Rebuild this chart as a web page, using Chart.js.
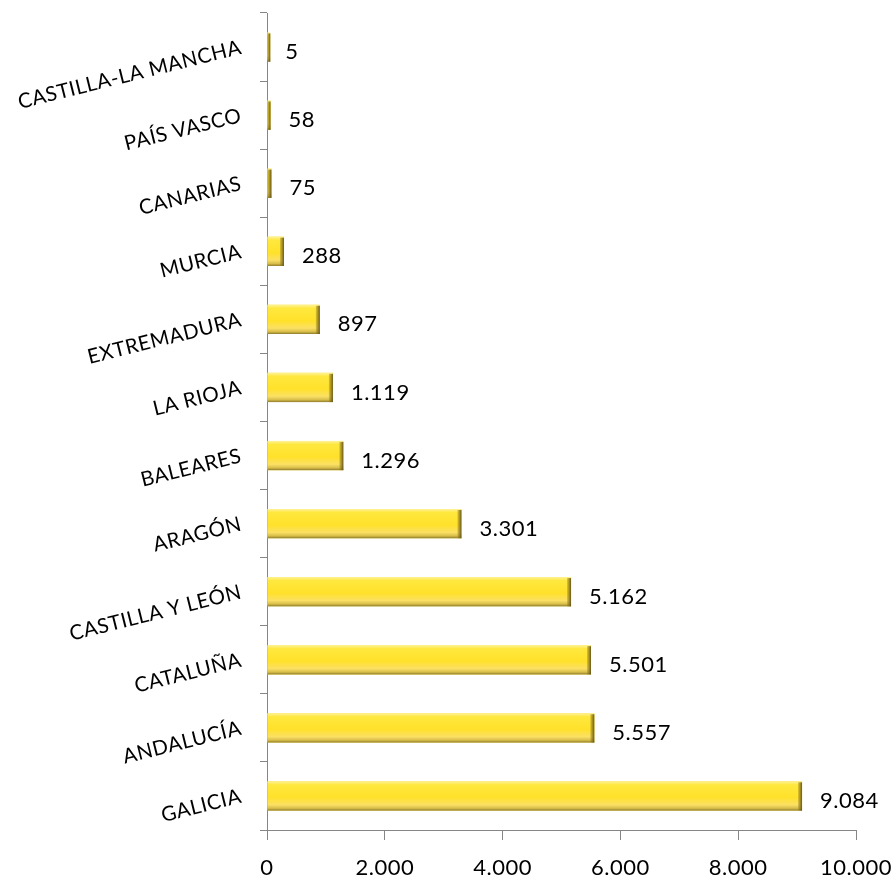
<!DOCTYPE html>
<html>
<head>
<meta charset="utf-8">
<script src="https://cdn.jsdelivr.net/npm/chart.js@4/dist/chart.umd.min.js"></script>
<style>
html,body{margin:0;padding:0;background:#fff;}
#wrap{width:896px;height:882px;position:relative;}
</style>
</head>
<body>
<div id="wrap"><canvas id="c" width="896" height="882"></canvas></div>
<script>
const categories = ["CASTILLA-LA MANCHA","PAÍS VASCO","CANARIAS","MURCIA","EXTREMADURA","LA RIOJA","BALEARES","ARAGÓN","CASTILLA Y LEÓN","CATALUÑA","ANDALUCÍA","GALICIA"];
const values = [5,58,75,288,897,1119,1296,3301,5162,5501,5557,9084];
const xTickValues = [0,2000,4000,6000,8000,10000];

function fmt(v){
  const s = Math.round(v).toString();
  return s.replace(/\B(?=(\d{3})+(?!\d))/g, ".");
}

const FONT = "Lato, 'Open Sans', sans-serif";
const AXIS = "#868686";
const SPACING = "0.5px";

const bevelPlugin = {
  id: 'bevel',
  beforeLayout(chart){ chart.ctx.letterSpacing = SPACING; },
  beforeDraw(chart){ chart.ctx.letterSpacing = SPACING; },
  afterDatasetDraw(chart, args){
    const ctx = chart.ctx;
    const meta = args.meta;
    meta.data.forEach((bar) => {
      const p = bar.getProps(['x','y','base','height'], true);
      const left = Math.min(p.base, p.x);
      let right = Math.max(p.base, p.x);
      const top = p.y - p.height/2, bottom = p.y + p.height/2;
      const h = bottom - top;
      ctx.save();
      if (right - left < 3) right = left + 3;
      const g = ctx.createLinearGradient(0, top, 0, bottom);
      g.addColorStop(0, '#FFF29A');
      g.addColorStop(0.12, '#FFE83E');
      g.addColorStop(0.55, '#FFE12A');
      g.addColorStop(0.8, '#FBE064');
      g.addColorStop(0.92, '#D8BE4A');
      g.addColorStop(1, '#8E7A2C');
      ctx.fillStyle = g;
      ctx.fillRect(left, top, right - left, h);
      const ew = Math.min(4, right - left);
      const eg = ctx.createLinearGradient(right - ew, 0, right, 0);
      eg.addColorStop(0, 'rgba(150,125,30,0.35)');
      eg.addColorStop(1, 'rgba(95,80,25,0.95)');
      ctx.fillStyle = eg;
      ctx.fillRect(right - ew, top + 1, ew, h - 1);
      ctx.restore();
    });
  },
  afterDatasetsDraw(chart){
    const ctx = chart.ctx;
    const meta = chart.getDatasetMeta(0);
    ctx.save();
    ctx.letterSpacing = SPACING;
    ctx.font = "22px " + FONT;
    ctx.fillStyle = "#000";
    ctx.textAlign = "left";
    ctx.textBaseline = "middle";
    meta.data.forEach((bar, i) => {
      const p = bar.getProps(['x','y'], true);
      ctx.fillText(fmt(values[i]), p.x + 18, p.y + 5);
    });
    ctx.restore();
  }
};

new Chart(document.getElementById('c'), {
  type: 'bar',
  data: {
    labels: categories,
    datasets: [{
      data: values,
      backgroundColor: '#FFE12A',
      borderWidth: 0,
      barPercentage: 0.43,
      categoryPercentage: 1.0
    }]
  },
  options: {
    indexAxis: 'y',
    responsive: false,
    animation: false,
    events: [],
    layout: { padding: { top: 13, right: 40, left: 0, bottom: 0 } },
    plugins: { legend: { display: false }, tooltip: { enabled: false } },
    scales: {
      x: {
        min: 0, max: 10000,
        afterBuildTicks(scale){ scale.ticks = xTickValues.map(v => ({value: v})); },
        afterFit(scale){ scale.height = 52; scale.paddingLeft = 0; scale.paddingRight = 0; },
        ticks: {
          callback: (v) => fmt(v),
          font: { size: 22, family: FONT },
          color: '#000',
          padding: 15,
          maxRotation: 0
        },
        grid: { drawOnChartArea: false, drawTicks: true, tickLength: 10, color: AXIS, lineWidth: 1 },
        border: { display: true, color: AXIS, width: 1 }
      },
      y: {
        afterFit(scale){ scale.width = 267; scale.paddingTop = 0; scale.paddingBottom = 0; },
        ticks: {
          font: { size: 20.5, family: FONT },
          color: '#000',
          minRotation: 14,
          maxRotation: 14,
          padding: 19,
          autoSkip: false
        },
        grid: { offset: true, drawOnChartArea: false, drawTicks: true, tickLength: 7, color: AXIS, lineWidth: 1 },
        border: { display: true, color: AXIS, width: 1 }
      }
    }
  },
  plugins: [bevelPlugin]
});
</script>
</body>
</html>
